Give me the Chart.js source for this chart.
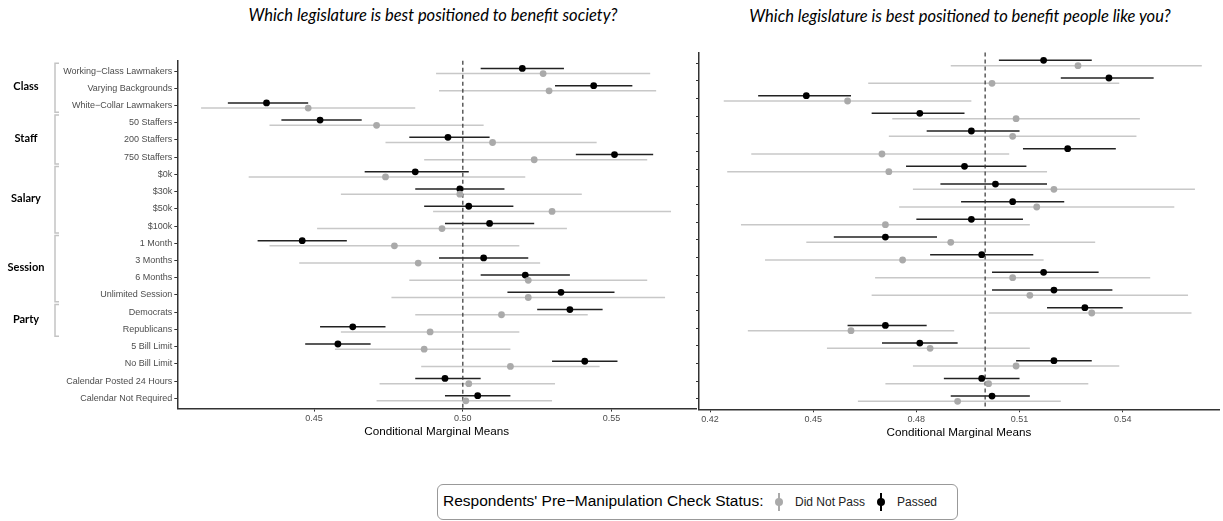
<!DOCTYPE html>
<html>
<head>
<meta charset="utf-8">
<script src="https://cdn.jsdelivr.net/npm/chart.js@4.4.1/dist/chart.umd.min.js"></script>
<style>
  body { margin: 0; background: #fff; width: 1223px; height: 521px; position: relative; overflow: hidden; font-family: 'Liberation Sans', Arial, sans-serif; }
  .title { position: absolute; top: 5px; font-family: Lato, sans-serif; font-style: italic; font-size: 16.5px; color: #000; transform: translateX(-50%); white-space: nowrap; }
  #society { position: absolute; left: 0; top: 0; }
  #people { position: absolute; left: 690px; top: 0; }
  .legend { position: absolute; left: 437px; top: 484px; width: 521px; height: 36px; border: 1.5px solid #999; border-radius: 6px; box-sizing: border-box; }
  .legend span { position: absolute; white-space: nowrap; }
  .legend .head { left: 5px; top: 7px; font-size: 15.5px; color: #000; }
  .legend .item { top: 10px; font-size: 12px; color: #222; }
  .key { position: absolute; top: 8px; width: 8px; height: 18px; }
  .key::before { content: ''; position: absolute; left: 3px; top: 0; width: 2px; height: 18px; background: var(--c); }
  .key::after { content: ''; position: absolute; left: 0; top: 5px; width: 8px; height: 8px; border-radius: 50%; background: var(--c); }
</style>
</head>
<body>
<div class="title" style="left:433px">Which legislature is best positioned to benefit society?</div>
<div class="title" style="left:960px;top:6px">Which legislature is best positioned to benefit people like you?</div>
<canvas id="society" width="700" height="445"></canvas>
<canvas id="people" width="533" height="445"></canvas>
<div class="legend">
  <span class="head">Respondents' Pre−Manipulation Check Status:</span>
  <i class="key" style="left:337px;--c:#aaaaaa"></i>
  <span class="item" style="left:357px">Did Not Pass</span>
  <i class="key" style="left:439px;--c:#000"></i>
  <span class="item" style="left:459px">Passed</span>
</div>
<script>
const labels = ['Working−Class Lawmakers', 'Varying Backgrounds', 'White−Collar Lawmakers',
    '50 Staffers', '200 Staffers', '750 Staffers',
    '$0k', '$30k', '$50k', '$100k',
    '1 Month', '3 Months', '6 Months', 'Unlimited Session',
    'Democrats', 'Republicans',
    '5 Bill Limit', 'No Bill Limit', 'Calendar Posted 24 Hours', 'Calendar Not Required'];

const groupNames = ['Class', 'Staff', 'Salary', 'Session', 'Party'];
const groupFirst = [1, 4, 7, 11, 15];
const groupLast = [3, 6, 10, 14, 16];

// benefit society
const societyPassed = [0.520, 0.544, 0.434, 0.452, 0.495, 0.551, 0.484, 0.499, 0.502, 0.509, 0.446, 0.507, 0.521, 0.533, 0.536, 0.463, 0.458, 0.541, 0.494, 0.505];
const societyPassedLo = [0.506, 0.531, 0.421, 0.439, 0.482, 0.538, 0.467, 0.484, 0.487, 0.494, 0.431, 0.492, 0.506, 0.515, 0.525, 0.452, 0.447, 0.530, 0.484, 0.494];
const societyPassedHi = [0.534, 0.557, 0.448, 0.466, 0.509, 0.564, 0.502, 0.514, 0.517, 0.524, 0.461, 0.522, 0.536, 0.551, 0.547, 0.474, 0.469, 0.552, 0.506, 0.516];
const societyFailed = [0.527, 0.529, 0.448, 0.471, 0.510, 0.524, 0.474, 0.499, 0.530, 0.493, 0.477, 0.485, 0.522, 0.522, 0.513, 0.489, 0.487, 0.516, 0.502, 0.501];
const societyFailedLo = [0.491, 0.492, 0.412, 0.435, 0.474, 0.487, 0.428, 0.459, 0.490, 0.451, 0.435, 0.445, 0.482, 0.476, 0.484, 0.459, 0.457, 0.486, 0.472, 0.471];
const societyFailedHi = [0.563, 0.565, 0.484, 0.507, 0.545, 0.562, 0.521, 0.540, 0.570, 0.535, 0.519, 0.526, 0.562, 0.568, 0.542, 0.519, 0.516, 0.546, 0.531, 0.530];
const societyTicks = [0.45, 0.50, 0.55];

// benefit people like you
const peoplePassed = [0.517, 0.536, 0.448, 0.481, 0.496, 0.524, 0.494, 0.503, 0.508, 0.496, 0.471, 0.499, 0.517, 0.520, 0.529, 0.471, 0.481, 0.520, 0.499, 0.502];
const peoplePassedLo = [0.504, 0.522, 0.434, 0.467, 0.483, 0.511, 0.477, 0.487, 0.493, 0.480, 0.456, 0.484, 0.502, 0.502, 0.518, 0.460, 0.470, 0.509, 0.488, 0.490];
const peoplePassedHi = [0.531, 0.549, 0.461, 0.494, 0.510, 0.538, 0.512, 0.518, 0.523, 0.511, 0.486, 0.514, 0.533, 0.537, 0.540, 0.483, 0.492, 0.531, 0.510, 0.513];
const peopleFailed = [0.527, 0.502, 0.460, 0.509, 0.508, 0.470, 0.472, 0.520, 0.515, 0.471, 0.490, 0.476, 0.508, 0.513, 0.531, 0.461, 0.484, 0.509, 0.501, 0.492];
const peopleFailedLo = [0.490, 0.466, 0.424, 0.473, 0.472, 0.432, 0.425, 0.479, 0.475, 0.429, 0.448, 0.436, 0.468, 0.467, 0.501, 0.431, 0.454, 0.479, 0.471, 0.463];
const peopleFailedHi = [0.563, 0.539, 0.496, 0.545, 0.544, 0.507, 0.518, 0.561, 0.555, 0.513, 0.532, 0.517, 0.548, 0.559, 0.560, 0.491, 0.513, 0.539, 0.530, 0.522];
const peopleTicks = [0.42, 0.45, 0.48, 0.51, 0.54];

const FONT = "'Liberation Sans', Arial, sans-serif";
const DODGE = 0.15;

// error bars + dashed reference line, drawn under the points
const errorBars = {
    id: 'errorBars',
    beforeDatasetsDraw(chart) {
        const { ctx, scales: { x, y }, chartArea } = chart;
        ctx.save();
        chart.data.datasets.forEach(ds => {
            ctx.strokeStyle = ds.barColor;
            ctx.lineWidth = 1.5;
            ds.data.forEach((p, i) => {
                const py = y.getPixelForValue(p.y);
                ctx.beginPath();
                ctx.moveTo(x.getPixelForValue(ds.lo[i]), py);
                ctx.lineTo(x.getPixelForValue(ds.hi[i]), py);
                ctx.stroke();
            });
        });
        const x0 = x.getPixelForValue(0.5);
        ctx.strokeStyle = '#333';
        ctx.lineWidth = 1.2;
        ctx.setLineDash([4, 3]);
        ctx.beginPath();
        ctx.moveTo(x0, chartArea.top);
        ctx.lineTo(x0, chartArea.bottom);
        ctx.stroke();
        ctx.restore();
    }
};

// group names and brackets left of the category labels
const groupBrackets = {
    id: 'groupBrackets',
    afterDraw(chart) {
        const { ctx, scales: { y } } = chart;
        ctx.save();
        groupNames.forEach((name, i) => {
            const top = y.getPixelForValue(groupFirst[i] - 0.45);
            const bottom = y.getPixelForValue(groupLast[i] + 0.4);
            ctx.strokeStyle = '#c4c4c4';
            ctx.lineWidth = 1.5;
            ctx.beginPath();
            ctx.moveTo(59, top);
            ctx.lineTo(55, top);
            ctx.lineTo(55, bottom);
            ctx.lineTo(59, bottom);
            ctx.stroke();
            ctx.fillStyle = '#000';
            ctx.font = "bold 11px Lato, sans-serif";
            ctx.textAlign = 'center';
            ctx.textBaseline = 'middle';
            ctx.fillText(name, 26, y.getPixelForValue((groupFirst[i] + groupLast[i]) / 2) - 1.5);
        });
        ctx.restore();
    }
};

function makePanel(canvasId, passed, passedLo, passedHi, failed, failedLo, failedHi, tickVals, box) {
    const plugins = [errorBars];
    if (box.showLabels) plugins.push(groupBrackets);
    return new Chart(document.getElementById(canvasId), {
        type: 'scatter',
        data: {
            datasets: [{
                label: 'Did Not Pass',
                data: failed.map((v, i) => ({ x: v, y: i + 1 + DODGE })),
                lo: failedLo, hi: failedHi, barColor: '#c8c8c8',
                backgroundColor: '#aaaaaa', pointRadius: 3.4, borderWidth: 0
            }, {
                label: 'Passed',
                data: passed.map((v, i) => ({ x: v, y: i + 1 - DODGE })),
                lo: passedLo, hi: passedHi, barColor: '#222',
                backgroundColor: '#000', pointRadius: 3.4, borderWidth: 0
            }]
        },
        options: {
            responsive: false,
            animation: false,
            layout: { padding: { top: box.top, right: box.right, bottom: box.bottom, left: 0 } },
            plugins: { legend: { display: false }, tooltip: { enabled: false } },
            scales: {
                x: {
                    type: 'linear', min: box.xMin, max: box.xMax,
                    afterBuildTicks: s => { s.ticks = tickVals.map(v => ({ value: v })); },
                    afterFit: s => { s.height = 30; },
                    ticks: { callback: v => v.toFixed(2), font: { family: FONT, size: 9 }, color: '#4d4d4d', padding: 2, maxRotation: 0, autoSkip: false },
                    grid: { drawOnChartArea: false, tickLength: 3, color: '#333' },
                    border: { color: '#333', width: 1.5 },
                    title: { display: true, text: 'Conditional Marginal Means', font: { family: FONT, size: 11.7 }, color: '#000', padding: 0 }
                },
                y: {
                    type: 'linear', min: 0.4, max: 20.6, reverse: true,
                    afterBuildTicks: s => { s.ticks = labels.map((l, i) => ({ value: i + 1 })); },
                    afterFit: s => { s.width = box.yWidth; },
                    ticks: { display: box.showLabels, callback: v => labels[v - 1], font: { family: FONT, size: 9 }, color: '#4d4d4d', padding: 2, autoSkip: false },
                    grid: { drawOnChartArea: false, tickLength: 3, color: '#333' },
                    border: { color: '#333', width: 1.5 }
                }
            }
        },
        plugins: plugins
    });
}

makePanel('society', societyPassed, societyPassedLo, societyPassedHi,
    societyFailed, societyFailedLo, societyFailedHi, societyTicks,
    { top: 60.7, bottom: 6.4, right: 3, yWidth: 177.3, xMin: 0.404, xMax: 0.5784, showLabels: true });

makePanel('people', peoplePassed, peoplePassedLo, peoplePassedHi,
    peopleFailed, peopleFailedLo, peopleFailedHi, peopleTicks,
    { top: 52.4, bottom: 5.7, right: 0, yWidth: 9, xMin: 0.4168, xMax: 0.568, showLabels: false });
</script>
</body>
</html>
